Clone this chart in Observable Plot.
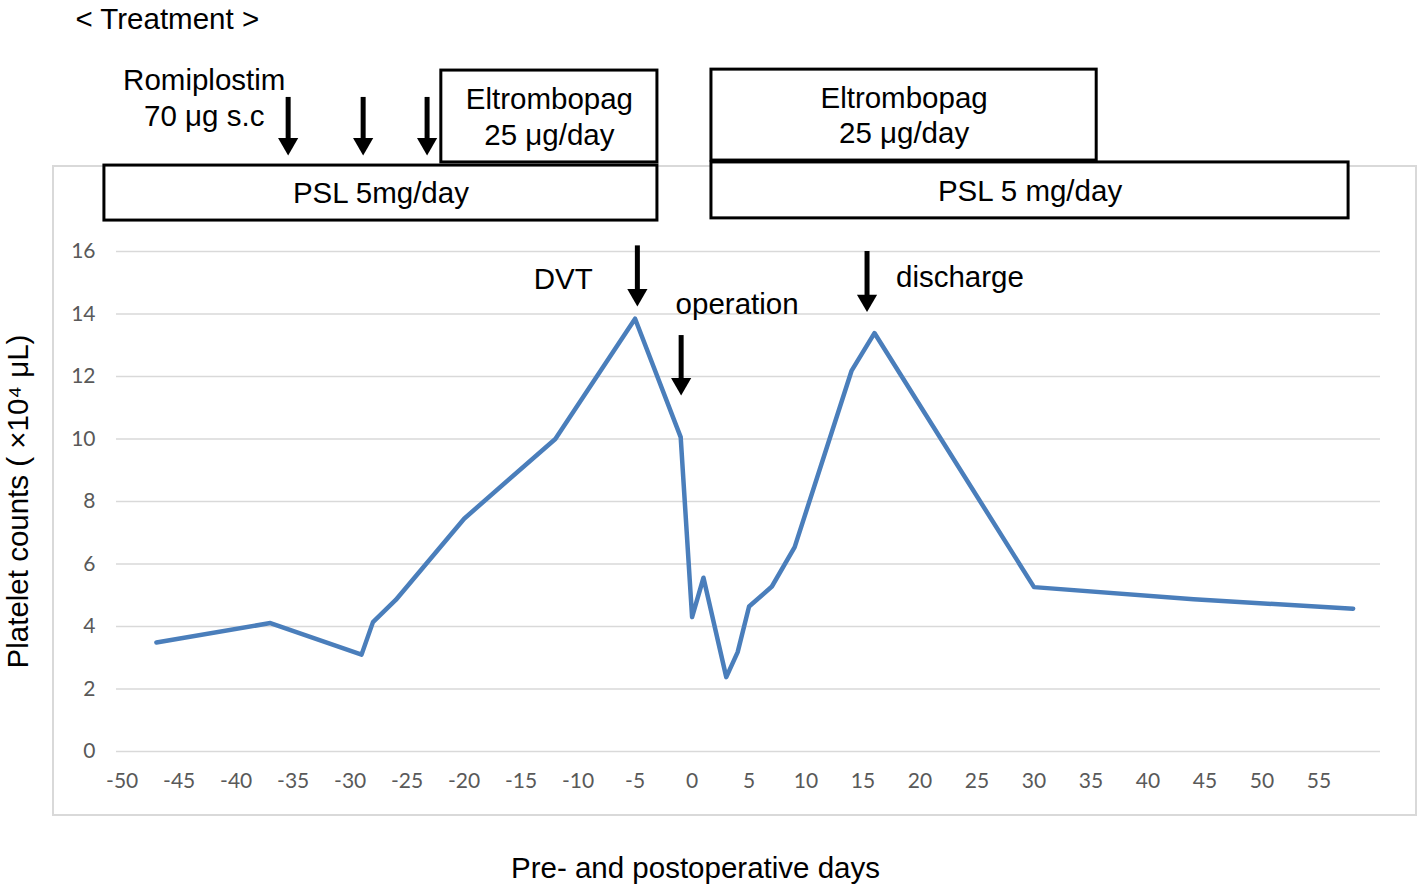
<!DOCTYPE html>
<html>
<head>
<meta charset="utf-8">
<script src="https://cdn.jsdelivr.net/npm/d3@7"></script>
<script src="https://cdn.jsdelivr.net/npm/@observablehq/plot@0.6"></script>
<style>
  html, body { margin: 0; padding: 0; background: #fff; }
  #wrap { position: relative; width: 1418px; height: 886px; overflow: hidden; }
  #border { position: absolute; left: 52px; top: 165px; width: 1365px; height: 651px;
            border: 2px solid #d9d9d9; box-sizing: border-box; z-index: 0; }
  #chart { position: absolute; left: 0; top: 0; z-index: 1; }
</style>
</head>
<body>
<div id="wrap"><div id="border"></div><div id="chart"></div></div>
<script>
// Platelet counts (x10^4 /μL) by pre-/postoperative day
const days   = [-47, -37, -29, -28, -26, -20, -12, -5, -1, 0, 1, 3, 4, 5, 7, 9, 14, 16, 30, 44, 58];
const counts = [3.49, 4.11, 3.10, 4.14, 4.85, 7.45, 10.0, 13.85, 10.06, 4.30, 5.56, 2.38, 3.18, 4.64, 5.28, 6.54, 12.19, 13.39, 5.26, 4.87, 4.57];

const xTicks = [-50, -45, -40, -35, -30, -25, -20, -15, -10, -5, 0, 5, 10, 15, 20, 25, 30, 35, 40, 45, 50, 55];
const yTicks = [0, 2, 4, 6, 8, 10, 12, 14, 16];

// Treatment periods (day range, level range above the plot)
const treatLabels = ["PSL 5mg/day", "Eltrombopag\n25 μg/day", "Eltrombopag\n25 μg/day", "PSL 5 mg/day"];
const treatStart  = [-51.56, -22.0, 1.70, 1.70];
const treatEnd    = [-3.04, -3.04, 35.5, 57.6];
const treatLow    = [16.99, 18.85, 18.91, 17.06];
const treatHigh   = [18.75, 21.79, 21.82, 18.85];

// Event arrows (day, top level, tip level)
const arrowDays = [-35.44, -28.86, -23.25, -4.8, -0.96, 15.35];
const arrowTop  = [20.93, 20.93, 20.93, 16.18, 13.31, 16.0];
const arrowTip  = [19.07, 19.07, 19.07, 14.24, 11.39, 14.06];

// Text annotations
const headingText = "< Treatment >";
const headingDay = -54.1;
const headingLevel = 23.42;
const noteTexts  = ["Romiplostim\n70 μg s.c", "DVT", "operation", "discharge"];
const noteDays   = [-42.8, -11.3, 3.95, 23.5];
const noteLevels = [20.96, 15.17, 14.36, 15.24];

const yTitle = "Platelet counts ( ×10⁴ μL)";
const xTitle = "Pre- and postoperative days";

const series = days.map((d, i) => ({day: d, count: counts[i]}));
const treatments = treatLabels.map((t, i) => ({label: t, x1: treatStart[i], x2: treatEnd[i], y1: treatLow[i], y2: treatHigh[i],
  xm: (treatStart[i] + treatEnd[i]) / 2, ym: (treatLow[i] + treatHigh[i]) / 2}));
const arrows = arrowDays.map((d, i) => ({day: d, top: arrowTop[i], tip: arrowTip[i]}));
const notes = noteTexts.map((t, i) => ({text: t, day: noteDays[i], level: noteLevels[i]}));

const labelFont = "'Liberation Sans', Arial, sans-serif";
const tickFont = "Lato, 'Open Sans', sans-serif";
const fs = 29.5;
const headR = 7.5;
const headH = Math.sqrt(3) / 2 * Math.sqrt(4 * Math.PI * headR * headR / Math.sqrt(3));

const chart = Plot.plot({
  width: 1418,
  height: 886,
  marginLeft: 116,
  marginRight: 38,
  marginTop: 251,
  marginBottom: 135,
  x: {domain: [-50.5, 60.4]},
  y: {domain: [0, 16]},
  style: {background: "transparent", overflow: "visible"},
  marks: [
    Plot.gridY(yTicks, {stroke: "#d9d9d9", strokeOpacity: 1, strokeWidth: 1.5}),
    Plot.axisY(yTicks, {tickSize: 0, tickPadding: 21, fontSize: 21, fill: "#595959", fontFamily: tickFont, label: null, tickFormat: d => String(d)}),
    Plot.axisX(xTicks, {tickSize: 0, tickPadding: 22, fontSize: 21, fill: "#595959", fontFamily: tickFont, label: null, tickFormat: d => String(d)}),
    Plot.line(series, {x: "day", y: "count", stroke: "#4a7ebb", strokeWidth: 4.5, strokeLinejoin: "round"}),
    Plot.rect(treatments, {x1: "x1", x2: "x2", y1: "y1", y2: "y2", fill: "white", stroke: "black", strokeWidth: 3}),
    Plot.text(treatments, {x: "xm", y: "ym", text: "label", fontSize: fs, lineHeight: 1.2, dy: -1, fill: "black", fontFamily: labelFont}),
    Plot.ruleX(arrows, {x: "day", y1: "top", y2: "tip", stroke: "black", strokeWidth: 5, insetBottom: headH - 2}),
    Plot.dot(arrows, {x: "day", y: "tip", symbol: "triangle", rotate: 180, r: headR, fill: "black", stroke: "none", dy: -headH * 2 / 3}),
    Plot.text([headingText], {x: headingDay, y: headingLevel, textAnchor: "start", fontSize: fs, fill: "black", fontFamily: labelFont}),
    Plot.text(notes, {x: "day", y: "level", text: "text", fontSize: fs, lineHeight: 1.22, fill: "black", fontFamily: labelFont}),
    Plot.text([yTitle], {frameAnchor: "left", textAnchor: "middle", dx: -98, rotate: -90, fontSize: fs, fill: "black", fontFamily: labelFont}),
    Plot.text([xTitle], {frameAnchor: "bottom", textAnchor: "middle", dx: -53, dy: 126, fontSize: fs, fill: "black", fontFamily: labelFont})
  ]
});
document.getElementById("chart").appendChild(chart);
</script>
</body>
</html>
